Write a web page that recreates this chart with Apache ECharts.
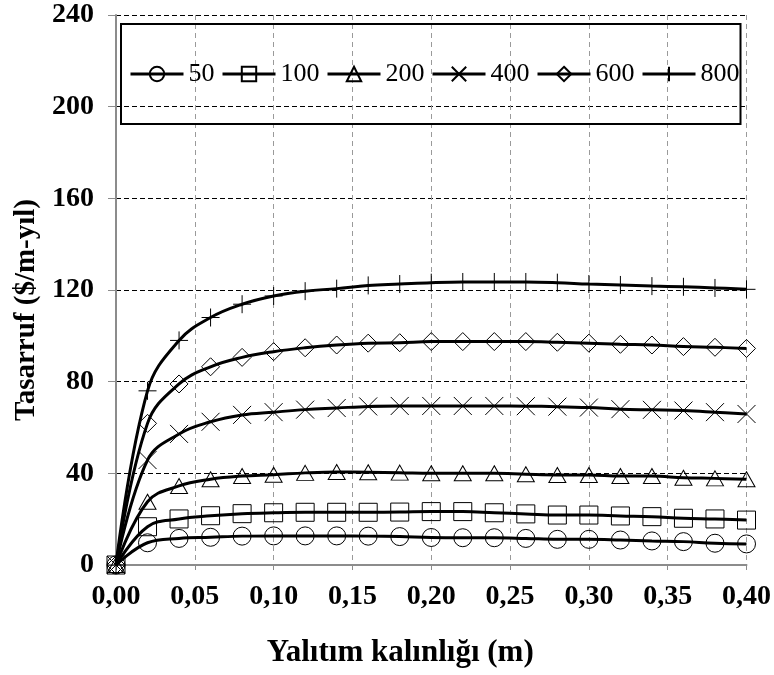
<!DOCTYPE html>
<html>
<head>
<meta charset="utf-8">
<script src="https://cdn.jsdelivr.net/npm/echarts@6/dist/echarts.min.js"></script>
<style>
  html, body { margin: 0; padding: 0; background: #fff; }
  #chart { width: 774px; height: 675px; }
</style>
</head>
<body>
<div id="chart"></div>
<script>
// insulation thickness (m)
const thickness = [0, 0.02, 0.04, 0.06, 0.08, 0.10, 0.12, 0.14, 0.16, 0.18, 0.20,
  0.22, 0.24, 0.26, 0.28, 0.30, 0.32, 0.34, 0.36, 0.38, 0.40];

// savings ($/m-yıl) per series
const s50 = [0, 9.7, 11.6, 12.1, 12.6, 12.7, 12.7, 12.7, 12.6, 12.4, 12.0,
  11.9, 11.9, 11.6, 11.2, 11.2, 10.9, 10.5, 10.2, 9.5, 9.2];
const s100 = [0, 16.7, 20.1, 21.5, 22.4, 22.8, 23.0, 23.0, 23.0, 23.1, 23.3,
  23.3, 22.8, 22.3, 21.8, 21.8, 21.4, 21.1, 20.4, 20.1, 19.6];
const s200 = [0, 27.6, 34.5, 37.4, 38.8, 39.4, 40.2, 40.6, 40.5, 40.3, 40.0,
  40.0, 40.0, 39.6, 39.3, 39.3, 38.8, 38.8, 38.1, 37.8, 37.4];
const s400 = [0, 45.8, 57.2, 62.5, 65.5, 66.7, 67.8, 68.5, 69.2, 69.4, 69.4,
  69.4, 69.4, 69.3, 69.1, 68.7, 68.0, 67.7, 67.4, 66.7, 65.9];
const s600 = [0, 61.8, 79.0, 86.5, 90.6, 93.1, 94.8, 96.0, 96.8, 97.0, 97.5,
  97.5, 97.5, 97.5, 97.2, 96.8, 96.3, 96.0, 95.3, 95.0, 94.5];
const s800 = [0, 76.0, 98.0, 108.0, 113.8, 117.4, 119.5, 120.6, 122.0, 122.6, 123.2,
  123.5, 123.5, 123.5, 123.2, 122.6, 122.2, 121.7, 121.4, 120.9, 120.3];

const seriesNames = ['50', '100', '200', '400', '600', '800'];
const seriesValues = [s50, s100, s200, s400, s600, s800];

const symbols = [
  'circle',
  'rect',
  'triangle',
  'path://M0,0L10,10M0,10L10,0',
  'diamond',
  'path://M5,0L5,10M0,5L10,5'
];
const symbolSizes = [18, 18, [17, 15], 18, 18, 18];

const serif = '"Liberation Serif", "Times New Roman", serif';
const fmtX = v => v.toFixed(2).replace('.', ',');

const chart = echarts.init(document.getElementById('chart'));

chart.setOption({
  animation: false,
  backgroundColor: '#fff',
  grid: { left: 116, right: 26, top: 15, bottom: 110 },
  legend: {
    left: 121,
    top: 24,
    padding: [37, 1, 37, 8],
    borderColor: '#000',
    borderWidth: 2,
    itemWidth: 53,
    itemHeight: 18,
    itemGap: 6.5,
    data: seriesNames,
    lineStyle: { width: 3 },
    textStyle: { fontFamily: serif, fontSize: 26, color: '#000' }
  },
  xAxis: {
    type: 'value',
    min: 0,
    max: 0.4,
    interval: 0.05,
    name: 'Yalıtım kalınlığı (m)',
    nameLocation: 'middle',
    nameGap: 72,
    nameTextStyle: {
      fontFamily: serif, fontSize: 31, fontWeight: 'bold', color: '#000',
      padding: [0, 62, 0, 0]
    },
    axisLine: { show: true, lineStyle: { color: '#8c8c8c', width: 2 } },
    axisTick: { show: true, length: 5, lineStyle: { color: '#8c8c8c' } },
    axisLabel: {
      margin: 18,
      fontFamily: serif, fontSize: 28, fontWeight: 'bold', color: '#000',
      formatter: fmtX
    },
    splitLine: { show: true, lineStyle: { color: '#9a9a9a', type: [5, 4], width: 1 } }
  },
  yAxis: {
    type: 'value',
    min: 0,
    max: 240,
    interval: 40,
    name: 'Tasarruf ($/m-yıl)',
    nameLocation: 'middle',
    nameGap: 72,
    nameTextStyle: {
      fontFamily: serif, fontSize: 29, fontWeight: 'bold', color: '#000',
      padding: [0, 40, 0, 0]
    },
    axisLine: { show: true, lineStyle: { color: '#8c8c8c', width: 2 } },
    axisTick: { show: true, length: 8, lineStyle: { color: '#8c8c8c' } },
    axisLabel: {
      margin: 22,
      fontFamily: serif, fontSize: 28, fontWeight: 'bold', color: '#000'
    },
    splitLine: { show: true, lineStyle: { color: '#000', type: [5, 3], width: 1 } }
  },
  series: seriesNames.map((name, i) => ({
    name,
    type: 'line',
    smooth: 0.4,
    data: thickness.map((x, j) => [x, seriesValues[i][j]]),
    symbol: symbols[i],
    symbolSize: symbolSizes[i],
    showAllSymbol: true,
    lineStyle: { color: '#000', width: 3 },
    itemStyle: { color: 'rgba(0,0,0,0)', borderColor: '#000', borderWidth: 1 },
    emphasis: { disabled: true },
    z: 2
  }))
});
</script>
</body>
</html>
